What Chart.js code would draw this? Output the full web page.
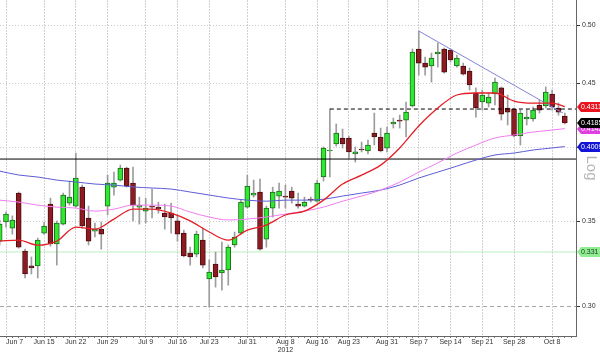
<!DOCTYPE html>
<html>
<head>
<meta charset="utf-8">
<script src="https://cdn.jsdelivr.net/npm/chart.js@4.4.1/dist/chart.umd.min.js"></script>
<style>
  html, body { margin: 0; padding: 0; background: #fff; }
</style>
</head>
<body>
<canvas id="priceChart" width="600" height="353"></canvas>
<script>
// trading-day index of the first candle (Jun 6, partly cut off at the left edge)
const firstDay = -1;

const openP = [0.3376, 0.3495, 0.3457, 0.3684, 0.3315, 0.3227, 0.3227, 0.3425, 0.3611, 0.3358,
  0.3482, 0.3617, 0.3598, 0.3724, 0.3521, 0.3438, 0.3450, 0.3598, 0.3724, 0.3772,
  0.3855, 0.3752, 0.3591, 0.3565, 0.3598, 0.3591, 0.3552, 0.3552, 0.3502, 0.3425,
  0.3303, 0.3297, 0.3382, 0.3151, 0.3238, 0.3186, 0.3203, 0.3352, 0.3425, 0.3591,
  0.3670, 0.3691, 0.3388, 0.3585, 0.3664, 0.3664, 0.3697, 0.3611, 0.3598, 0.3644,
  0.3630, 0.3793, 0.3977, 0.4028, 0.4072, 0.4072, 0.3955, 0.3991, 0.3977, 0.4109,
  0.4079, 0.3998, 0.4177, 0.4207, 0.4207, 0.4316, 0.4787, 0.4666, 0.4641, 0.4744,
  0.4787, 0.4778, 0.4641, 0.4641, 0.4599, 0.4419, 0.4347, 0.4339, 0.4411, 0.4460,
  0.4300, 0.4292, 0.4087, 0.4215, 0.4215, 0.4324, 0.4316, 0.4411, 0.4300, 0.4238];
const highP = [0.3508, 0.3559, 0.3534, 0.3691, 0.3327, 0.3280, 0.3394, 0.3495, 0.3650, 0.3502,
  0.3684, 0.3765, 0.3962, 0.3738, 0.3598, 0.3489, 0.3495, 0.3806, 0.3827, 0.3876,
  0.3862, 0.3862, 0.3657, 0.3650, 0.3711, 0.3624, 0.3611, 0.3617, 0.3540, 0.3444,
  0.3339, 0.3438, 0.3457, 0.3262, 0.3309, 0.3370, 0.3352, 0.3432, 0.3637, 0.3806,
  0.3772, 0.3779, 0.3598, 0.3724, 0.3752, 0.3738, 0.3724, 0.3684, 0.3657, 0.3657,
  0.3772, 0.4006, 0.4292, 0.4177, 0.4139, 0.4087, 0.4006, 0.4042, 0.4057, 0.4261,
  0.4146, 0.4154, 0.4222, 0.4245, 0.4347, 0.4787, 0.4946, 0.4718, 0.4752, 0.4839,
  0.4795, 0.4787, 0.4735, 0.4666, 0.4624, 0.4460, 0.4443, 0.4419, 0.4541, 0.4468,
  0.4403, 0.4300, 0.4284, 0.4284, 0.4308, 0.4363, 0.4468, 0.4443, 0.4339, 0.4261];
const lowP = [0.3352, 0.3463, 0.3419, 0.3333, 0.3157, 0.3180, 0.3157, 0.3419, 0.3345, 0.3232,
  0.3476, 0.3604, 0.3591, 0.3457, 0.3352, 0.3401, 0.3327, 0.3540, 0.3670, 0.3765,
  0.3724, 0.3502, 0.3482, 0.3489, 0.3521, 0.3552, 0.3450, 0.3425, 0.3376, 0.3280,
  0.3232, 0.3280, 0.3215, 0.2994, 0.3105, 0.3088, 0.3116, 0.3339, 0.3419, 0.3585,
  0.3657, 0.3321, 0.3339, 0.3527, 0.3585, 0.3585, 0.3617, 0.3585, 0.3591, 0.3624,
  0.3624, 0.3765, 0.3793, 0.4013, 0.3998, 0.3926, 0.3898, 0.3970, 0.3955, 0.4020,
  0.3970, 0.3970, 0.4146, 0.4146, 0.4079, 0.4308, 0.4565, 0.4565, 0.4508, 0.4632,
  0.4582, 0.4675, 0.4632, 0.4565, 0.4443, 0.4230, 0.4284, 0.4308, 0.4324, 0.4207,
  0.4169, 0.4079, 0.4020, 0.4169, 0.4199, 0.4261, 0.4300, 0.4284, 0.4245, 0.4177];
const closeP = [0.3482, 0.3546, 0.3508, 0.3339, 0.3180, 0.3215, 0.3382, 0.3470, 0.3358, 0.3489,
  0.3670, 0.3657, 0.3786, 0.3470, 0.3376, 0.3450, 0.3419, 0.3752, 0.3752, 0.3855,
  0.3731, 0.3604, 0.3604, 0.3585, 0.3591, 0.3578, 0.3527, 0.3521, 0.3419, 0.3286,
  0.3280, 0.3419, 0.3232, 0.3191, 0.3163, 0.3203, 0.3339, 0.3401, 0.3624, 0.3731,
  0.3684, 0.3327, 0.3585, 0.3691, 0.3697, 0.3657, 0.3650, 0.3598, 0.3624, 0.3637,
  0.3752, 0.3998, 0.3984, 0.4109, 0.4028, 0.3970, 0.3970, 0.3984, 0.4020, 0.4079,
  0.3977, 0.4109, 0.4192, 0.4199, 0.4268, 0.4761, 0.4666, 0.4632, 0.4709, 0.4761,
  0.4590, 0.4692, 0.4709, 0.4573, 0.4484, 0.4300, 0.4403, 0.4387, 0.4508, 0.4253,
  0.4268, 0.4087, 0.4261, 0.4230, 0.4284, 0.4284, 0.4427, 0.4308, 0.4268, 0.4185];

// moving averages, read every third session
const maDays = [-1, 2, 5, 8, 11, 14, 17, 20, 23, 26, 29, 32, 35, 38, 41, 44, 47, 50, 53, 56, 59, 62, 65, 68, 71, 74, 77, 80, 83, 86, 88];
const maFast = [0.3376, 0.3382, 0.3351, 0.3376, 0.3463, 0.3450, 0.3514, 0.3578, 0.3578, 0.3552, 0.3502, 0.3432, 0.3382, 0.3444, 0.3476, 0.3540,
  0.3565, 0.3637, 0.3745, 0.3806, 0.3876, 0.3999, 0.4162, 0.4300, 0.4403, 0.4419, 0.4419, 0.4355, 0.4339, 0.4339, 0.4311];
const maMid = [0.3637, 0.3624, 0.3604, 0.3591, 0.3585, 0.3565, 0.3578, 0.3604, 0.3604, 0.3598, 0.3559, 0.3527, 0.3508, 0.3514, 0.3527, 0.3546,
  0.3565, 0.3591, 0.3630, 0.3664, 0.3704, 0.3758, 0.3827, 0.3891, 0.3962, 0.4020, 0.4072, 0.4094, 0.4116, 0.4131, 0.4142];
const maSlow = [0.3834, 0.3807, 0.3793, 0.3772, 0.3759, 0.3745, 0.3738, 0.3725, 0.3718, 0.3711, 0.3691, 0.3671, 0.3651, 0.3637, 0.3630, 0.3637,
  0.3637, 0.3643, 0.3664, 0.3684, 0.3704, 0.3738, 0.3786, 0.3827, 0.3869, 0.3912, 0.3948, 0.3962, 0.3984, 0.3999, 0.4009];

// drawn studies
const supportLevel = 0.3919;
const breakoutDay = 51;
const breakoutLevel = 0.4292;
const greenLevel = 0.331;
const trendDays = [65, 87.7];
const trendValues = [0.4946, 0.4261];

// axis ticks
const tickDays = [0, 6, 11, 16, 22, 27, 32, 38, 44, 49, 54, 60, 65, 70, 75, 80, 86];
const tickLabels = ["Jun 7", "Jun 15", "Jun 22", "Jun 29", "Jul 9", "Jul 16", "Jul 23", "Jul 31", "Aug 8",
  "Aug 16", "Aug 23", "Aug 31", "Sep 7", "Sep 14", "Sep 21", "Sep 28", "Oct 8"];
const yearDay = 44;
const yearLabel = "2012";
const yTicks = [0.30, 0.35, 0.40, 0.45, 0.50];

// last-value tags on the right edge
const tagValues = [0.4311, 0.4142, 0.4185, 0.4009, 0.331];
const tagLabels = ["0.4311", "0.4142", "0.4185", "0.4009", "0.331"];
const tagFill = ["#e8141e", "#e040e0", "#000000", "#1414d8", "#90ec90"];
const tagInk = ["#ffffff", "#ffffff", "#ffffff", "#ffffff", "#1a3a1a"];

const xMin = -0.945;
const xMax = 89.76;
const yMin = 0.2841;
const yMax = 0.5233;
const FONT = "'Liberation Sans', Arial, sans-serif";

const candleDays = openP.map((_, k) => firstDay + k);
const isUp = openP.map((o, k) => closeP[k] >= o);
const allDays = Array.from({ length: 90 }, (_, k) => k);
const toPoints = (xs, ys) => xs.map((x, k) => ({ x: x, y: ys[k] }));

const lineSet = (label, data, color, width, extra) => Object.assign({
  type: "line",
  label: label,
  data: data,
  borderColor: color,
  borderWidth: width,
  pointRadius: 0,
  fill: false,
  order: 0,
}, extra || {});

const sideTags = {
  id: "sideTags",
  afterDraw(chart) {
    const ctx = chart.ctx;
    const yScale = chart.scales.y;
    const left = chart.chartArea.right + 1;
    ctx.save();
    ctx.font = "7px " + FONT;
    ctx.textBaseline = "middle";
    tagValues.forEach((v, k) => {
      const py = Math.round(yScale.getPixelForValue(v));
      ctx.fillStyle = tagFill[k];
      ctx.beginPath();
      ctx.moveTo(left, py);
      ctx.lineTo(left + 4, py - 5);
      ctx.lineTo(600, py - 5);
      ctx.lineTo(600, py + 5);
      ctx.lineTo(left + 4, py + 5);
      ctx.closePath();
      ctx.fill();
      ctx.fillStyle = tagInk[k];
      ctx.fillText(tagLabels[k], left + 4, py + 0.5);
    });
    ctx.translate(591, 168);
    ctx.rotate(Math.PI / 2);
    ctx.fillStyle = "#b4b4b4";
    ctx.font = "15px " + FONT;
    ctx.textAlign = "center";
    ctx.fillText("Log", 0, 0);
    ctx.restore();
  },
};

new Chart(document.getElementById("priceChart"), {
  type: "line",
  data: {
    datasets: [
      lineSet("MA fast", toPoints(maDays, maFast), "#e41e26", 1.3, { cubicInterpolationMode: "monotone" }),
      lineSet("MA mid", toPoints(maDays, maMid), "#f07cf0", 1, { cubicInterpolationMode: "monotone" }),
      lineSet("MA slow", toPoints(maDays, maSlow), "#5c5cd6", 1, { cubicInterpolationMode: "monotone" }),
      lineSet("Trend", toPoints(trendDays, trendValues), "#8084d6", 1),
      lineSet("Support", [{ x: xMin, y: supportLevel }, { x: xMax, y: supportLevel }], "#000000", 1),
      lineSet("Breakout", [{ x: breakoutDay, y: breakoutLevel }, { x: xMax, y: breakoutLevel }], "#000000", 1, { borderDash: [4, 3] }),
      lineSet("Level", [{ x: xMin, y: greenLevel }, { x: xMax, y: greenLevel }], "#bdeebd", 1, { order: 3 }),
      {
        type: "bar",
        label: "Body",
        data: toPoints(candleDays, openP.map((o, k) => [o, closeP[k]])),
        backgroundColor: isUp.map((u) => (u ? "#30e830" : "#8c1c22")),
        borderColor: isUp.map((u) => (u ? "#1d6a1d" : "#4e0c10")),
        borderWidth: 1,
        borderSkipped: false,
        barThickness: 5,
        minBarLength: 1,
        grouped: false,
        order: 1,
      },
      {
        type: "bar",
        label: "Wick",
        data: toPoints(candleDays, lowP.map((l, k) => [l, highP[k]])),
        backgroundColor: "#9c9c9c",
        borderWidth: 0,
        barThickness: 1,
        grouped: false,
        order: 2,
      },
    ],
  },
  options: {
    responsive: false,
    animation: false,
    devicePixelRatio: 1,
    layout: { padding: 0 },
    plugins: { legend: { display: false }, tooltip: { enabled: false } },
    scales: {
      x: {
        type: "linear",
        min: xMin,
        max: xMax,
        bounds: "data",
        offset: false,
        afterBuildTicks: (s) => { s.ticks = allDays.map((v) => ({ value: v })); },
        afterFit: (s) => { s.height = 17; s.paddingLeft = 0; s.paddingRight = 0; },
        grid: {
          offset: false,
          color: (c) => (c.tick && tickDays.includes(c.tick.value) ? "#d2d2d2" : "rgba(0,0,0,0)"),
          tickColor: "#777",
          tickLength: 2,
        },
        border: { color: "#666", dash: [2, 1] },
        ticks: {
          autoSkip: false,
          maxRotation: 0,
          minRotation: 0,
          align: "inner",
          padding: 0,
          color: "#333",
          font: { family: FONT, size: 7, lineHeight: 1.15 },
          callback: (v) => {
            const k = tickDays.indexOf(v);
            if (k < 0) return "";
            return v === yearDay ? [tickLabels[k], yearLabel] : tickLabels[k];
          },
        },
      },
      y: {
        type: "logarithmic",
        position: "right",
        min: yMin,
        max: yMax,
        bounds: "data",
        stacked: false,
        afterBuildTicks: (s) => { s.ticks = yTicks.map((v) => ({ value: v })); },
        afterFit: (s) => { s.width = 24; s.paddingTop = 0; s.paddingBottom = 0; },
        grid: {
          color: (c) => (c.tick && c.tick.value === 0.30 ? "#a8a8a8" : "#cccccc"),
          tickColor: "#333",
          tickLength: 4,
        },
        border: {
          color: "#666",
          dash: (c) => (c.tick && c.tick.value === 0.30 ? [4, 3] : [1, 2]),
        },
        ticks: {
          padding: 2,
          color: "#333",
          font: { family: FONT, size: 7 },
          callback: (v) => Number(v).toFixed(2),
        },
      },
    },
  },
  plugins: [sideTags],
});
</script>
</body>
</html>
